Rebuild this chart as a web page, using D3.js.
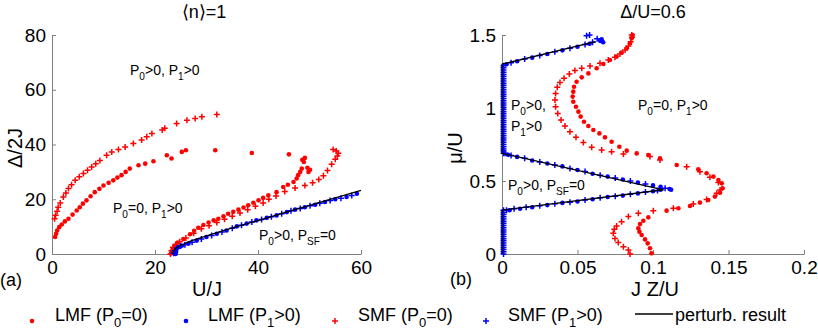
<!DOCTYPE html>
<html>
<head>
<meta charset="utf-8">
<script src="https://cdn.jsdelivr.net/npm/d3@7"></script>
<style>
body { margin: 0; background: #fff; }
text { font-family: "Liberation Sans", Arial, Helvetica, sans-serif; }
</style>
</head>
<body>
<div id="chart"></div>
<script>
var width = 818,
    height = 331;

// ---- data: panel (a), <n>=1, x = U/J, y = Delta/2J
var lmfP0UpperA = [[0.6,6.2],[0.8,7.4],[1,8.6],[1.4,9.8],[1.9,10.8],[2.5,11.9],[3.2,12.9],[4,14.4],[4.8,15.9],[5.4,17.1],[6,18.4],[6.7,19.6],[7.5,21.1],[8.3,22.6],[9.2,23.8],[10,25],[11,26],[11.9,26.9],[12.7,27.9],[13.5,28.8],[14.3,30],[15.1,31.2],[16.8,32.4],[18.1,33],[19.7,33.9],[22.3,36.1],[23.2,34.9],[25.2,37.3],[26,37.9],[31.7,37.9],[38.8,36.9],[46,36.4]];
var lmfP0LowerA = [[23.1,0.2],[23.4,1.5],[23.8,3],[24.4,4.2],[25.5,5.5],[26.8,7.2],[27.6,8.5],[28.4,9.6],[29.4,10.6],[30.4,11.5],[31.4,12.3],[32.3,12.9],[33.3,13.8],[34.2,14.7],[35.2,15.4],[36.2,16.2],[37.2,17],[38.1,17.8],[39.1,18.7],[40.1,19.6],[41,20.5],[42,21.4],[43.6,22.6],[44.9,24.5],[45.8,25.3],[46.9,26.3],[47.5,27.6],[47.8,28.8],[48.2,30],[48.5,31.2],[48.9,33.6],[49.1,35.1],[48.6,34.4],[49.8,30],[50.1,30.8],[49.6,31.5]];
var smfP0UpperA = [[0.5,12.9],[0.7,14.2],[1,15.6],[1.2,17.1],[1.6,18.6],[2.2,20.8],[2.7,22.3],[3.2,23.9],[3.8,25.3],[4.5,26.9],[5.3,28.2],[6.1,29.4],[6.9,30.6],[7.7,31.8],[8.5,33],[9.3,34.2],[10.6,36.1],[11.6,37.3],[12.9,38.2],[14.2,39.1],[15.8,40.4],[17.4,41.6],[18.4,42.8],[19.4,44],[21.4,45.3],[21.9,45.9],[24.2,47.7],[26.2,48.9],[27.8,49.5],[29.1,50.1],[32,51]];
var smfP0LowerA = [[23,0],[23.2,1.2],[23.5,2.5],[24,3.5],[24.8,4.5],[26,5.8],[27.5,7.6],[29,9.2],[30.5,10.3],[32,11.5],[33.5,12.7],[35,13.8],[36.5,15],[38,16.2],[39.5,17.4],[41,18.6],[42.1,20],[43.5,21.2],[45.2,22.8],[47.2,24.1],[49.1,25],[50.6,26],[51.8,27.2],[52.7,28.6],[53.5,30.5],[54.3,32.8],[55,34.6],[55.4,35.8],[55.6,36.8],[55.2,37.6],[54.6,38.2]];
var lmfP1A = [[24,0],[24.1,0.7],[24.2,1.8],[24.5,2.5],[25.2,3],[26.5,3.8],[28.1,4.9],[30,6.2],[32,7.4],[33.9,8.6],[35.9,10.1],[37.8,11.1],[39.7,12.3],[41.7,13.2],[43.6,14.1],[45.6,15.3],[47.2,16.2],[49.1,17.1],[51.1,18],[53,19],[55,20],[57.2,20.8],[59.2,22]];
var smfP1A = [[23.6,0.3],[23.8,1.2],[24.3,2.2],[25,2.9],[25.8,3.4],[27.2,4.3],[29,5.5],[31,6.8],[33,8],[35,9.4],[36.8,10.5],[38.8,11.7],[40.7,12.6],[42.6,13.6],[44.6,14.7],[46.4,15.8],[48.2,16.6],[50.1,17.6],[52,18.5],[54,19.5],[56.1,20.4],[58.2,21.4]];
var perturbA = [[23.4,0],[23.6,1],[24,2],[25,3.2],[27,4.8],[30,6.6],[35,9.5],[40,12.2],[45,15],[50,17.8],[55,20.5],[60,23.2]];

// ---- data: panel (b), Delta/U=0.6, x = J Z/U, y = mu/U
var lmfP0B = [[0.099,0.005],[0.098,0.039],[0.0965,0.073],[0.0947,0.1],[0.0925,0.13],[0.091,0.153],[0.0903,0.176],[0.0914,0.205],[0.0936,0.228],[0.0969,0.251],[0.109,0.297],[0.1168,0.313],[0.1245,0.329],[0.1311,0.352],[0.1366,0.37],[0.141,0.393],[0.1444,0.42],[0.1461,0.45],[0.1455,0.484],[0.1433,0.507],[0.14,0.53],[0.1355,0.553],[0.13,0.58],[0.1157,0.61],[0.1046,0.655],[0.0969,0.678],[0.0892,0.689],[0.0826,0.708],[0.0777,0.735],[0.0726,0.769],[0.0682,0.799],[0.0645,0.826],[0.0605,0.849],[0.0572,0.877],[0.0543,0.906],[0.0521,0.941],[0.0506,0.975],[0.049,1.009],[0.0472,1.043],[0.0468,1.078],[0.0472,1.112],[0.0477,1.146],[0.0494,1.18],[0.0528,1.21],[0.0572,1.237],[0.0627,1.272],[0.0671,1.301],[0.0715,1.329],[0.0759,1.352],[0.0793,1.379],[0.0826,1.409],[0.0848,1.443],[0.0859,1.477],[0.0865,1.5]];
var smfP0B = [[0.0848,0],[0.0837,0.027],[0.0804,0.05],[0.077,0.078],[0.0748,0.107],[0.0737,0.142],[0.0744,0.169],[0.0759,0.192],[0.0792,0.221],[0.0837,0.256],[0.0903,0.279],[0.1002,0.297],[0.1135,0.313],[0.1267,0.342],[0.1355,0.374],[0.1422,0.416],[0.1444,0.438],[0.1433,0.489],[0.1377,0.525],[0.1311,0.564],[0.1223,0.598],[0.1046,0.644],[0.098,0.667],[0.0804,0.685],[0.0726,0.701],[0.066,0.712],[0.0594,0.731],[0.0539,0.763],[0.049,0.799],[0.045,0.838],[0.0417,0.877],[0.0391,0.918],[0.0369,0.963],[0.0355,1.009],[0.0351,1.055],[0.0355,1.1],[0.0366,1.142],[0.0384,1.174],[0.0411,1.203],[0.0446,1.233],[0.0483,1.256],[0.0528,1.272],[0.0583,1.288],[0.0649,1.306],[0.0704,1.329],[0.0748,1.347],[0.0781,1.37],[0.0815,1.397],[0.0837,1.425],[0.0852,1.454],[0.0861,1.484],[0.0859,1.5]];
var lmfP1B = [[0.005,0.3],[0.012,0.31],[0.02,0.32],[0.03,0.335],[0.04,0.35],[0.05,0.36],[0.06,0.375],[0.07,0.39],[0.08,0.4],[0.09,0.415],[0.1,0.43],[0.105,0.44],[0.111,0.445],[0.112,0.44],
              [0.105,0.46],[0.1,0.47],[0.09,0.49],[0.08,0.51],[0.07,0.53],[0.06,0.55],[0.05,0.575],[0.04,0.6],[0.03,0.62],[0.02,0.64],[0.01,0.665],[0.004,0.68],
              [0.003,1.3],[0.01,1.32],[0.02,1.345],[0.03,1.37],[0.04,1.395],[0.05,1.42],[0.058,1.44],[0.065,1.46],[0.067,1.45],[0.066,1.47]];
var smfP1B = [[0.003,0.3],[0.008,0.31],[0.016,0.32],[0.025,0.33],[0.035,0.345],[0.045,0.355],[0.055,0.37],[0.065,0.385],[0.075,0.395],[0.085,0.41],[0.095,0.425],[0.103,0.435],[0.108,0.45],
              [0.095,0.48],[0.085,0.5],[0.075,0.52],[0.065,0.54],[0.055,0.565],[0.045,0.585],[0.035,0.61],[0.025,0.63],[0.015,0.655],[0.006,0.675],[0.002,0.69],
              [0.006,1.31],[0.015,1.335],[0.025,1.36],[0.035,1.385],[0.045,1.41],[0.055,1.435],[0.06,1.45],[0.058,1.5],[0.056,1.495],[0.063,1.475]];
// dense column of SMF (P1>0) points sitting on J Z/U = 0
var smfP1ColumnMu = [0,0.015,0.03,0.045,0.06,0.075,0.09,0.105,0.12,0.135,0.15,0.165,0.18,0.195,0.21,0.225,0.24,0.255,0.27,0.285,0.3,
                     0.69,0.705,0.72,0.735,0.75,0.765,0.78,0.795,0.81,0.825,0.84,0.855,0.87,0.885,0.9,0.915,0.93,0.945,0.96,0.975,0.99,1.005,1.02,1.035,1.05,1.065,1.08,1.095,1.11,1.125,1.14,1.155,1.17,1.185,1.2,1.215,1.23,1.245,1.26,1.275,1.29];
var perturbB = [[0,0],[0,0.3],[0.107,0.44],[0,0.69],[0,1.3],[0.062,1.455]];

var xTicksA = [0, 20, 40, 60],
    yTicksA = [0, 20, 40, 60, 80],
    xTicksB = [0, 0.05, 0.1, 0.15, 0.2],
    yTicksB = [0, 0.5, 1, 1.5];

var red = "#ff0000",
    blue = "#0000ff",
    axisGray = "#808080";

var svg = d3.select("#chart").append("svg")
    .attr("width", width)
    .attr("height", height);

var xA = d3.scaleLinear().domain([0, 60]).range([52, 361]),
    yA = d3.scaleLinear().domain([0, 80]).range([254, 35]),
    xB = d3.scaleLinear().domain([0, 0.2]).range([502, 804]),
    yB = d3.scaleLinear().domain([0, 1.5]).range([254, 35]);

function drawAxes(x, y, xt, yt) {
  var gx = svg.append("g")
      .attr("transform", "translate(0," + y.range()[0] + ")")
      .call(d3.axisBottom(x).tickValues(xt).tickFormat(d3.format("")).tickSizeInner(-4).tickSizeOuter(0).tickPadding(6.5));
  var gy = svg.append("g")
      .attr("transform", "translate(" + x.range()[0] + ",0)")
      .call(d3.axisLeft(y).tickValues(yt).tickFormat(d3.format("")).tickSizeInner(-4).tickSizeOuter(0).tickPadding(6));
  [gx, gy].forEach(function(g) {
    g.select(".domain").attr("stroke", axisGray);
    g.selectAll(".tick line").attr("stroke", axisGray);
    g.selectAll(".tick text")
        .attr("fill", "#000")
        .style("font-size", "19px")
        .style("font-family", "'Liberation Sans', Arial, sans-serif");
  });
}

drawAxes(xA, yA, xTicksA, yTicksA);
drawAxes(xB, yB, xTicksB, yTicksB);

function dots(data, x, y, color) {
  svg.append("g").selectAll("circle")
      .data(data)
    .enter().append("circle")
      .attr("cx", function(d) { return x(d[0]); })
      .attr("cy", function(d) { return y(d[1]); })
      .attr("r", 2.3)
      .attr("fill", color);
}

var plusPath = "M-3,0H3M0,-3V3";
function pluses(data, x, y, color) {
  svg.append("g").selectAll("path")
      .data(data)
    .enter().append("path")
      .attr("d", plusPath)
      .attr("transform", function(d) { return "translate(" + x(d[0]) + "," + y(d[1]) + ")"; })
      .attr("stroke", color)
      .attr("stroke-width", 1.5)
      .attr("fill", "none");
}

function curve(data, x, y) {
  svg.append("path")
      .datum(data)
      .attr("d", d3.line().x(function(d) { return x(d[0]); }).y(function(d) { return y(d[1]); }))
      .attr("stroke", "#000")
      .attr("stroke-width", 1.3)
      .attr("fill", "none");
}

// panel (a)
dots(lmfP0UpperA, xA, yA, red);
dots(lmfP0LowerA, xA, yA, red);
pluses(smfP0UpperA, xA, yA, red);
pluses(smfP0LowerA, xA, yA, red);
dots(lmfP1A, xA, yA, blue);
pluses(smfP1A, xA, yA, blue);
curve(perturbA, xA, yA);

// panel (b)
pluses(smfP1ColumnMu.map(function(m) { return [0.001, m]; }), xB, yB, blue);
dots(lmfP0B, xB, yB, red);
pluses(smfP0B, xB, yB, red);
dots(lmfP1B, xB, yB, blue);
pluses(smfP1B, xB, yB, blue);
curve(perturbB, xB, yB);

// text with subscripts: parts alternate normal / subscript
function richText(x, y, parts, size, anchor) {
  var t = svg.append("text")
      .attr("x", x)
      .attr("y", y)
      .attr("font-size", size + "px")
      .attr("text-anchor", anchor || "start");
  var shift = size * 0.35;
  parts.forEach(function(p, i) {
    if (!p) return;
    var sub = i % 2 === 1;
    var ts = t.append("tspan").text(p);
    if (sub) ts.attr("dy", shift).attr("font-size", (size * 0.72) + "px");
    else if (i > 0) ts.attr("dy", -shift);
  });
  return t;
}

// region labels
richText(130, 75, ["P", "0", ">0, P", "1", ">0"], 14);
richText(113, 213, ["P", "0", "=0, P", "1", ">0"], 14);
richText(259, 240, ["P", "0", ">0, P", "SF", "=0"], 14);
richText(511, 110, ["P", "0", ">0,"], 14);
richText(511, 131, ["P", "1", ">0"], 14);
richText(638, 110, ["P", "0", "=0, P", "1", ">0"], 14);
richText(508, 190, ["P", "0", ">0, P", "SF", "=0"], 14);

// titles and axis labels
svg.append("text").attr("x", 204).attr("y", 18).attr("text-anchor", "middle")
    .attr("font-size", "18px").text("\u27e8n\u27e9=1");
svg.append("text").attr("x", 653).attr("y", 18).attr("text-anchor", "middle")
    .attr("font-size", "18px").text("\u0394/U=0.6");
svg.append("text").attr("x", 207).attr("y", 296).attr("text-anchor", "middle")
    .attr("font-size", "20px").text("U/J");
svg.append("text").attr("x", 655).attr("y", 296).attr("text-anchor", "middle")
    .attr("font-size", "20px").text("J Z/U");
svg.append("text").attr("transform", "translate(22,148) rotate(-90)").attr("text-anchor", "middle")
    .attr("font-size", "20px").text("\u0394/2J");
svg.append("text").attr("transform", "translate(462,148) rotate(-90)").attr("text-anchor", "middle")
    .attr("font-size", "20px").text("\u03bc/U");
svg.append("text").attr("x", 0).attr("y", 286).attr("font-size", "18px").text("(a)");
svg.append("text").attr("x", 450).attr("y", 285).attr("font-size", "18px").text("(b)");

// legend
var legendY = 321;
svg.append("circle").attr("cx", 32).attr("cy", legendY).attr("r", 2.3).attr("fill", red);
richText(55, legendY, ["LMF (P", "0", "=0)"], 18);
svg.append("circle").attr("cx", 186).attr("cy", legendY).attr("r", 2.3).attr("fill", blue);
richText(208, legendY, ["LMF (P", "1", ">0)"], 18);
svg.append("path").attr("d", plusPath).attr("transform", "translate(335," + legendY + ")")
    .attr("stroke", red).attr("stroke-width", 1.5);
richText(358, legendY, ["SMF (P", "0", "=0)"], 18);
svg.append("path").attr("d", plusPath).attr("transform", "translate(486," + legendY + ")")
    .attr("stroke", blue).attr("stroke-width", 1.5);
richText(508, legendY, ["SMF (P", "1", ">0)"], 18);
svg.append("line").attr("x1", 635).attr("x2", 673).attr("y1", 314).attr("y2", 314)
    .attr("stroke", "#000").attr("stroke-width", 1.5);
svg.append("text").attr("x", 675).attr("y", legendY).attr("font-size", "18px").text("perturb. result");
</script>
</body>
</html>
